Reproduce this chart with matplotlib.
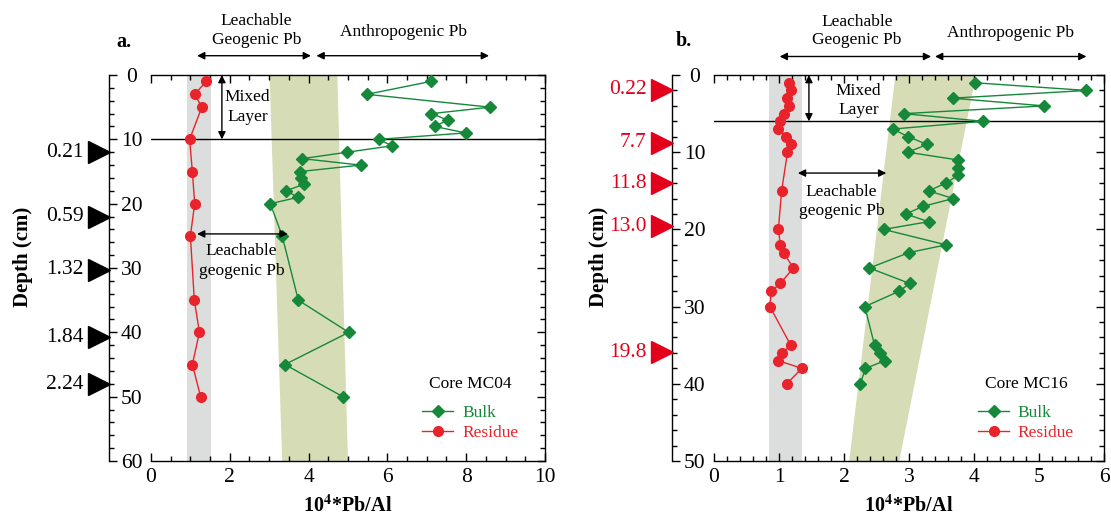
import numpy as np
import matplotlib
matplotlib.use('Agg')
import matplotlib.pyplot as plt
from matplotlib.lines import Line2D
from matplotlib.ticker import MultipleLocator
from matplotlib.transforms import blended_transform_factory, offset_copy

plt.rcParams['font.family'] = ['Liberation Serif', 'DejaVu Serif']
plt.rcParams['mathtext.fontset'] = 'stix'

GREEN = '#15883a'
RED = '#e8232b'

# ---- core MC04 (panel a) ----
bulk_depth_a = [1, 3, 5, 6, 7, 8, 9, 10, 11, 12, 13, 14, 15, 16, 17, 18, 19, 20, 25, 35, 40, 45, 50]
bulk_pb_a = [7.10, 5.48, 8.61, 7.12, 7.53, 7.20, 7.99, 5.78, 6.12, 4.98, 3.84, 5.32, 3.79, 3.81,
             3.88, 3.42, 3.74, 3.03, 3.33, 3.74, 5.02, 3.40, 4.87]
res_depth_a = [1, 3, 5, 10, 15, 20, 25, 35, 40, 45, 50]
res_pb_a = [1.40, 1.11, 1.29, 0.98, 1.05, 1.11, 1.00, 1.10, 1.23, 1.05, 1.26]
age_depth_a = [12, 22, 30.3, 40.8, 48.1]
age_labels_a = ['0.21', '0.59', '1.32', '1.84', '2.24']
geo_band_a = [0.91, 1.53]
anthro_top_a = [3.01, 4.73]
anthro_bot_a = [3.33, 5.00]
mixed_a = 10

# ---- core MC16 (panel b) ----
bulk_depth_b = [1, 2, 3, 4, 5, 6, 7, 8, 9, 10, 11, 12, 13, 14, 15, 16, 17, 18, 19, 20, 22, 23,
                25, 27, 28, 30, 35, 36, 37, 38, 40]
bulk_pb_b = [4.01, 5.73, 3.67, 5.08, 2.92, 4.14, 2.75, 2.99, 3.28, 2.98, 3.75, 3.76, 3.75, 3.57,
             3.30, 3.68, 3.22, 2.95, 3.30, 2.61, 3.57, 3.00, 2.39, 3.01, 2.85, 2.32, 2.47, 2.56,
             2.63, 2.33, 2.25]
res_depth_b = [1, 2, 3, 4, 5, 6, 7, 8, 9, 10, 15, 20, 22, 23, 25, 27, 28, 30, 35, 36, 37, 38, 40]
res_pb_b = [1.16, 1.19, 1.12, 1.16, 1.08, 1.01, 0.99, 1.11, 1.18, 1.13, 1.04, 0.99, 1.02, 1.07,
            1.22, 1.02, 0.88, 0.86, 1.18, 1.05, 0.99, 1.35, 1.12]
age_depth_b = [1.9, 8.8, 14.0, 19.6, 35.9]
age_labels_b = ['0.22', '7.7', '11.8', '13.0', '19.8']
geo_band_b = [0.84, 1.36]
anthro_top_b = [2.79, 4.03]
anthro_bot_b = [2.08, 2.85]
mixed_b = 6

fig = plt.figure(figsize=(11.11, 5.17), dpi=100)
ax_a = fig.add_axes([0.1359, 0.1083, 0.3546, 0.7466])
ax_b = fig.add_axes([0.6427, 0.1083, 0.3510, 0.7466])

SPINE_OFF = 30  # points


def panel(ax, xmax, ymax, xmaj, xmin_, bulk_d, bulk_v, res_d, res_v, geo, atop, abot,
          mixed, age_d, age_l, age_color, letter, core, anno):
    ax.set_xlim(0, xmax)
    ax.set_ylim(ymax, 0)
    ax.fill_betweenx([0, ymax], geo[0], geo[1], color='#dcdede', lw=0, zorder=0)
    ax.fill([atop[0], atop[1], abot[1], abot[0]], [0, 0, ymax, ymax],
            color='#d6ddb6', lw=0, zorder=0)
    ax.axhline(mixed, color='k', lw=1, zorder=1)
    ax.plot(bulk_v, bulk_d, '-D', color=GREEN, ms=6.5, lw=1, zorder=3)
    ax.plot(res_v, res_d, '-o', color=RED, ms=7, lw=1, zorder=3)

    # axes styling
    ax.spines['left'].set_position(('outward', SPINE_OFF))
    for s in ax.spines.values():
        s.set_linewidth(1)
    ax.xaxis.set_major_locator(MultipleLocator(xmaj))
    ax.xaxis.set_minor_locator(MultipleLocator(xmin_))
    ax.yaxis.set_major_locator(MultipleLocator(10))
    ax.yaxis.set_minor_locator(MultipleLocator(2))
    ax.tick_params(which='both', direction='in', top=True, right=True, labelsize=15.5)
    ax.tick_params(which='major', length=6, width=1)
    ax.tick_params(which='minor', length=3.5, width=1)
    ax.tick_params(axis='y', pad=-16)
    ax.set_yticks(np.arange(0, ymax + 1, 10))
    plt.setp(ax.get_yticklabels(), ha='center')
    ax.set_xticks(np.arange(0, xmax + 0.01, xmaj))
    ax.set_xticklabels([f'{v:g}' for v in np.arange(0, xmax + 0.01, xmaj)])
    ax.tick_params(axis='x', pad=5)

    ax.set_xlabel(r'10$^{\mathbf{4}}$*Pb/Al', fontsize=14.5, fontweight='bold', labelpad=6)
    ax.set_ylabel('Depth (cm)', fontsize=15, fontweight='bold')

    # age markers left of the offset spine
    tr = blended_transform_factory(ax.transAxes, ax.transData)
    tri_tr = offset_copy(tr, fig=fig, x=-SPINE_OFF - 7.5, y=0, units='points')
    txt_tr = offset_copy(tr, fig=fig, x=-SPINE_OFF - 18.5, y=0, units='points')
    ax.plot([0] * len(age_d), age_d, '>', ms=15.5, color=age_color, transform=tri_tr,
            clip_on=False, zorder=4)
    for d, lab in zip(age_d, age_l):
        ax.text(0, d, lab, transform=txt_tr, ha='right', va='center', fontsize=15.5,
                color=age_color, clip_on=False)

    arrow = dict(arrowstyle='<|-|>', color='k', lw=1, shrinkA=0, shrinkB=0,
                 mutation_scale=11)
    # top header arrows
    ax.annotate('', xy=anno['top1'][1], xytext=anno['top1'][0], arrowprops=arrow,
                annotation_clip=False)
    ax.annotate('', xy=anno['top2'][1], xytext=anno['top2'][0], arrowprops=arrow,
                annotation_clip=False)
    ax.text(*anno['top1_txt'], 'Leachable\nGeogenic Pb', ha='center', va='center',
            fontsize=12.5, linespacing=1.2, clip_on=False)
    ax.text(*anno['top2_txt'], 'Anthropogenic Pb', ha='center', va='center',
            fontsize=12.5, clip_on=False)
    # mixed layer
    ax.annotate('', xy=(anno['mix_x'], mixed), xytext=(anno['mix_x'], 0), arrowprops=arrow,
                annotation_clip=False)
    ax.text(*anno['mix_txt'], 'Mixed\nLayer', ha='center', va='center', fontsize=12.5,
            linespacing=1.3)
    # leachable geogenic arrow in plot
    ax.annotate('', xy=anno['leach'][1], xytext=anno['leach'][0], arrowprops=arrow)
    ax.text(*anno['leach_txt'], 'Leachable\ngeogenic Pb', ha='center', va='center',
            fontsize=12.5, linespacing=1.3)

    ax.text(*anno['letter'], letter, fontsize=14.5, fontweight='bold', ha='center',
            va='center', clip_on=False)

    handles = [Line2D([], [], color=GREEN, marker='D', ms=6.5, lw=1),
               Line2D([], [], color=RED, marker='o', ms=7, lw=1)]
    leg = ax.legend(handles, ['Bulk', 'Residue'], title=core, frameon=False, loc='center',
                    bbox_to_anchor=anno['leg'], fontsize=12.5, title_fontsize=12.5,
                    handlelength=1.8, handletextpad=0.5, labelspacing=0.25)
    leg._legend_box.sep = 9
    for t, c in zip(leg.get_texts(), [GREEN, RED]):
        t.set_color(c)


panel(ax_a, 10, 60, 2, 0.5, bulk_depth_a, bulk_pb_a, res_depth_a, res_pb_a,
      geo_band_a, anthro_top_a, anthro_bot_a, mixed_a, age_depth_a, age_labels_a, 'black',
      'a.', 'Core MC04',
      dict(top1=((1.17, -3.0), (4.06, -3.0)), top2=((4.2, -3.0), (8.58, -3.0)),
           top1_txt=(2.68, -6.9), top2_txt=(6.42, -6.7),
           mix_x=1.8, mix_txt=(2.45, 5.0),
           leach=((1.17, 24.7), (3.47, 24.7)), leach_txt=(2.3, 28.9),
           letter=(-0.68, -5.1), leg=(0.81, 0.135)))
ax_a.yaxis.set_label_coords(-0.30, 0.53)

panel(ax_b, 6, 50, 1, 0.2, bulk_depth_b, bulk_pb_b, res_depth_b, res_pb_b,
      geo_band_b, anthro_top_b, anthro_bot_b, mixed_b, age_depth_b, age_labels_b, '#e3001b',
      'b.', 'Core MC16',
      dict(top1=((1.01, -2.4), (3.34, -2.4)), top2=((3.40, -2.4), (5.73, -2.4)),
           top1_txt=(2.2, -5.7), top2_txt=(4.56, -5.5),
           mix_x=1.46, mix_txt=(2.22, 3.3),
           leach=((1.29, 12.7), (2.65, 12.7)), leach_txt=(1.96, 16.4),
           letter=(-0.47, -4.4), leg=(0.80, 0.135)))
ax_b.yaxis.set_label_coords(-0.27, 0.53)

fig.savefig('out.png', dpi=100)
